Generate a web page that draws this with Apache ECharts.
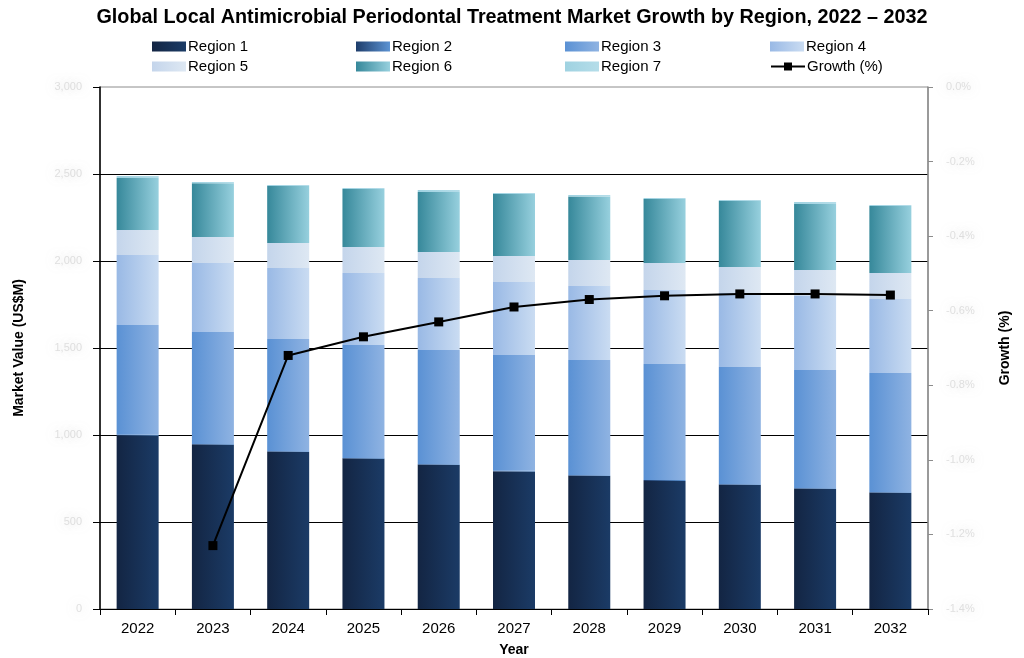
<!DOCTYPE html>
<html>
<head>
<meta charset="utf-8">
<script src="https://cdn.jsdelivr.net/npm/echarts@6/dist/echarts.min.js"></script>
<style>
html,body{margin:0;padding:0;background:#fff;}
#chart{width:1024px;height:658px;}
</style>
</head>
<body>
<div id="chart"></div>
<script>
var years = ['2022','2023','2024','2025','2026','2027','2028','2029','2030','2031','2032'];
var region1 = [996, 944, 902, 864, 828, 790, 764, 736, 713, 690, 667];
var region2 = [5, 4, 4, 4, 4, 5, 4, 5, 4, 4, 4];
var region3 = [631, 644, 646, 649, 657, 665, 663, 667, 674, 680, 685];
var region4 = [402, 397, 408, 414, 413, 419, 425, 425, 425, 425, 426];
var region5 = [144, 149, 143, 149, 150, 150, 150, 156, 150, 149, 149];
var region6 = [299, 309, 328, 334, 345, 356, 364, 367, 379, 380, 385];
var region7 = [12, 7, 6, 6, 11, 6, 9, 6, 6, 11, 6];
var growth = [null, -1.23, -0.72, -0.67, -0.63, -0.59, -0.57, -0.56, -0.555, -0.555, -0.558];
var leftTicks = ['0', '500', '1,000', '1,500', '2,000', '2,500', '3,000'];
var seriesNames = ['Region 1','Region 2','Region 3','Region 4','Region 5','Region 6','Region 7','Growth (%)'];

function grad(a, b) {
  return new echarts.graphic.LinearGradient(0, 0, 1, 0, [{offset:0,color:a},{offset:1,color:b}]);
}
var colors = [
  grad('#132543', '#1b3b66'),
  grad('#1e3d6b', '#5c93d3'),
  grad('#5a91d4', '#8fb3e2'),
  grad('#99b9e5', '#cadcf2'),
  grad('#c4d5eb', '#dee8f3'),
  grad('#36889a', '#97d0de'),
  grad('#9fd2e1', '#b5dde9')
];
var regionData = [region1, region2, region3, region4, region5, region6, region7];

var chart = echarts.init(document.getElementById('chart'));
var series = regionData.map(function (d, i) {
  return {
    name: seriesNames[i], type: 'bar', stack: 'total', data: d, barWidth: 42,
    itemStyle: { color: colors[i] }
  };
});
series.push({
  name: 'Growth (%)', type: 'line', yAxisIndex: 1, data: growth,
  symbol: 'rect', symbolSize: 9, connectNulls: false,
  lineStyle: { color: '#000', width: 2 },
  itemStyle: { color: '#000' }, z: 10
});

var legendPos = [
  [152, 39], [356, 39], [565, 39], [770, 39],
  [152, 59], [356, 59], [565, 59], [770, 59]
];
var legends = seriesNames.map(function (n, i) {
  var lg = {
    data: [n], left: legendPos[i][0], top: legendPos[i][1], padding: 0,
    itemWidth: 34, itemHeight: 10, itemGap: 4,
    textStyle: { fontFamily: 'Liberation Sans', fontSize: 15, color: '#000', padding: [0,0,0,-3] },
    selectedMode: false
  };
  if (i < 7) lg.icon = 'rect';
  return lg;
});

var blurLabel = {
  color: 'rgba(170,170,170,0.35)', fontFamily: 'Liberation Sans', fontSize: 11,
  textShadowColor: 'rgba(150,150,150,1)', textShadowBlur: 12
};

chart.setOption({
  animation: false,
  title: {
    text: 'Global Local Antimicrobial Periodontal Treatment Market Growth by Region, 2022 \u2013 2032',
    left: 'center', top: 3,
    textStyle: { fontFamily: 'Liberation Sans', fontWeight: 'bold', fontSize: 19.8, color: '#000' }
  },
  legend: legends,
  grid: { left: 100, right: 96, top: 87, bottom: 49, show: true, borderColor: '#8c8c8c', borderWidth: 1, outerBoundsMode: 'none', containLabel: false },
  xAxis: {
    type: 'category', data: years,
    name: 'Year', nameLocation: 'middle', nameGap: 34,
    nameTextStyle: { fontFamily: 'Liberation Sans', fontWeight: 'bold', fontSize: 14, color: '#000' },
    axisLine: { lineStyle: { color: '#000', width: 1 } },
    axisTick: { show: true, length: 6, lineStyle: { color: '#000' } },
    axisLabel: { fontFamily: 'Liberation Sans', fontSize: 15, color: '#000', margin: 12 }
  },
  yAxis: [
    {
      type: 'value', min: 0, max: 3000, interval: 500,
      name: 'Market Value (US$M)', nameLocation: 'middle', nameGap: 74, nameRotate: 90,
      nameTextStyle: { fontFamily: 'Liberation Sans', fontWeight: 'bold', fontSize: 14, color: '#000' },
      axisLine: { show: true, lineStyle: { color: '#000', width: 1.5 } },
      axisTick: { show: true, length: 7, lineStyle: { color: '#000' } },
      axisLabel: Object.assign({ margin: 18, formatter: function (v) { return leftTicks[Math.round(v / 500)]; } }, blurLabel),
      splitLine: { show: true, showMaxLine: false, lineStyle: { color: '#000', width: 1 } }
    },
    {
      type: 'value', min: -1.4, max: 0, interval: 0.2,
      name: 'Growth (%)', nameLocation: 'middle', nameGap: 70, nameRotate: 90,
      nameTextStyle: { fontFamily: 'Liberation Sans', fontWeight: 'bold', fontSize: 14, color: '#000' },
      axisLine: { show: true, lineStyle: { color: '#8c8c8c', width: 1.5 } },
      axisTick: { show: true, length: 5, lineStyle: { color: '#8c8c8c' } },
      axisLabel: Object.assign({ margin: 18, formatter: function (v) { return v.toFixed(1) + '%'; } }, blurLabel),
      splitLine: { show: false }
    }
  ],
  series: series
});
</script>
</body>
</html>
